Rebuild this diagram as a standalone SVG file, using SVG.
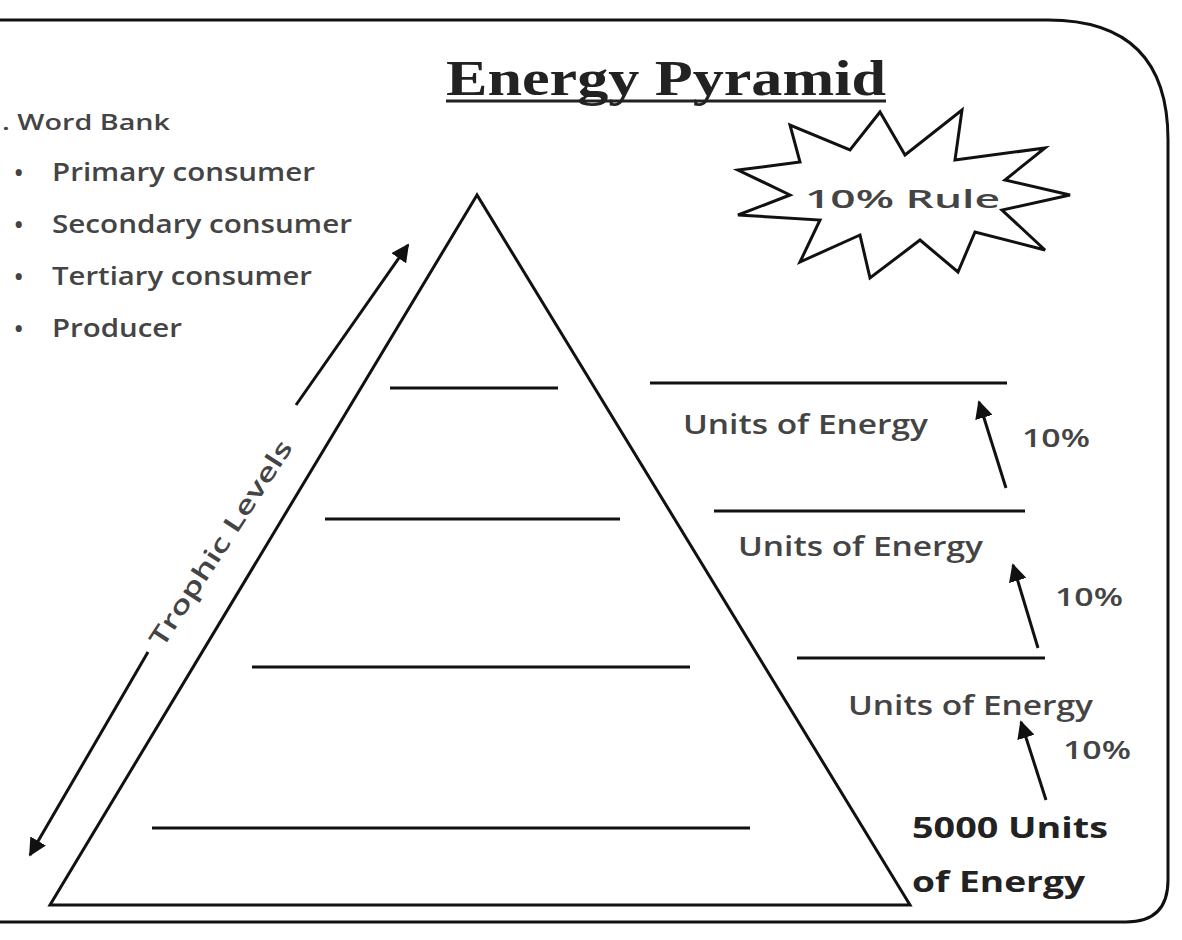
<svg xmlns="http://www.w3.org/2000/svg" width="1182" height="940" viewBox="0 0 1182 940">
<defs><marker id="ah" viewBox="0 0 10 10" refX="9" refY="5" markerWidth="6" markerHeight="6" orient="auto-start-reverse"><path d="M0,0L10,5L0,10z" fill="#111"/></marker></defs>
<style>
.s{font-family:"Open Sans","Liberation Sans",sans-serif;fill:#444;font-size:25px;font-weight:600}
.l{stroke:#111;stroke-width:3;fill:none}
</style>
<rect width="1182" height="940" fill="#fff"/>
<path d="M-20,20 H1048 Q1168,20 1168,140 V880 Q1168,922 1126,922 H-20" class="l" stroke-width="5"/>
<g id="title"><text x="446" y="95" textLength="440" lengthAdjust="spacingAndGlyphs" font-family="Liberation Serif,serif" font-weight="bold" font-size="50" fill="#222">Energy Pyramid</text>
<line x1="446" y1="101" x2="886" y2="101" stroke="#222" stroke-width="3"/></g>
<g id="wordbank" class="s">
<text x="2" y="130" font-size="22" textLength="168" lengthAdjust="spacingAndGlyphs">. Word Bank</text>
<text x="14" y="182">•</text><text x="52" y="181" textLength="263" lengthAdjust="spacingAndGlyphs">Primary consumer</text>
<text x="14" y="234">•</text><text x="52" y="233" textLength="300" lengthAdjust="spacingAndGlyphs">Secondary consumer</text>
<text x="14" y="286">•</text><text x="52" y="285" textLength="260" lengthAdjust="spacingAndGlyphs">Tertiary consumer</text>
<text x="14" y="338">•</text><text x="52" y="337" textLength="130" lengthAdjust="spacingAndGlyphs">Producer</text>
</g>
<g id="burst"><polygon class="l" stroke-width="2.5" points="738,170 800,162 790,125 850,150 880,112 905,155 962,110 955,160 1045,148 1005,180 1070,195 1002,210 1045,250 975,232 958,272 920,240 870,278 860,235 800,262 820,220 738,215 790,195"/>
<text x="805" y="208" textLength="195" lengthAdjust="spacingAndGlyphs" class="s" font-weight="normal" font-size="38">10% Rule</text></g>
<g id="pyramid"><polygon class="l" points="477,195 50,905 910,905"/>
<line class="l" x1="390" y1="388" x2="558" y2="388"/>
<line class="l" x1="325" y1="519" x2="620" y2="519"/>
<line class="l" x1="252" y1="667" x2="690" y2="667"/>
<line class="l" x1="152" y1="828" x2="750" y2="828"/></g>
<g id="energy" class="s">
<line class="l" x1="650" y1="383" x2="1007" y2="383"/>
<line class="l" x1="714" y1="511" x2="1025" y2="511"/>
<line class="l" x1="797" y1="658" x2="1045" y2="658"/>
<text x="683" y="434" textLength="245" lengthAdjust="spacingAndGlyphs" font-size="27">Units of Energy</text>
<text x="738" y="556" textLength="245" lengthAdjust="spacingAndGlyphs" font-size="27">Units of Energy</text>
<text x="848" y="715" textLength="245" lengthAdjust="spacingAndGlyphs" font-size="27">Units of Energy</text>
<text x="1022" y="447" textLength="68" lengthAdjust="spacingAndGlyphs">10%</text>
<text x="1055" y="606" textLength="68" lengthAdjust="spacingAndGlyphs">10%</text>
<text x="1063" y="759" textLength="68" lengthAdjust="spacingAndGlyphs">10%</text>
<text x="912" y="838" font-weight="bold" fill="#222" font-size="29" textLength="196" lengthAdjust="spacingAndGlyphs">5000 Units</text>
<text x="912" y="892" font-weight="bold" fill="#222" font-size="29" textLength="173" lengthAdjust="spacingAndGlyphs">of Energy</text>
</g>
<g id="connectors">
<line class="l" stroke-width="2.5" x1="1006" y1="488" x2="979" y2="402" marker-end="url(#ah)"/>
<line class="l" stroke-width="2.5" x1="1038" y1="648" x2="1013" y2="565" marker-end="url(#ah)"/>
<line class="l" stroke-width="2.5" x1="1046" y1="800" x2="1021" y2="722" marker-end="url(#ah)"/>
<line class="l" stroke-width="2.5" x1="30" y1="855" x2="148" y2="652" marker-start="url(#ah)"/>
<line class="l" stroke-width="2.5" x1="296" y1="405" x2="408" y2="245" marker-end="url(#ah)"/>
</g>
<g id="trophic"><text transform="translate(228,548) rotate(-57)" text-anchor="middle" class="s" fill="#222" font-size="33" textLength="240" lengthAdjust="spacingAndGlyphs">Trophic Levels</text></g>
</svg>
